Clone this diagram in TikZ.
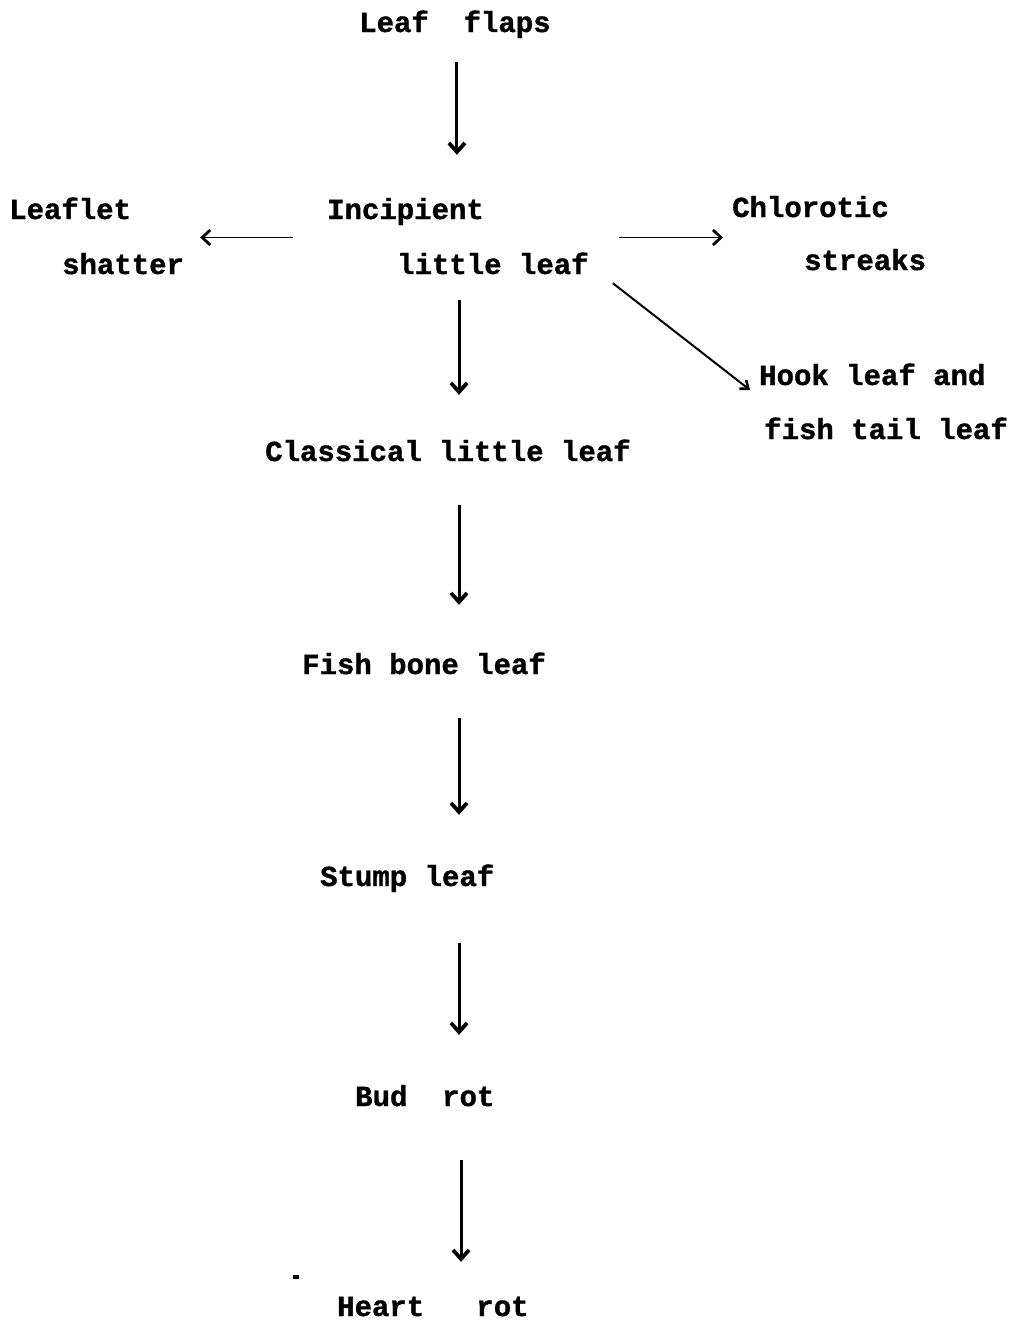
\documentclass[tikz,border=0pt]{standalone}
\usepackage{fontspec}
\newfontfamily\diagfont{Liberation Mono}[BoldFeatures={FakeBold=1.2}]
\usetikzlibrary{arrows.meta,calc}
\begin{document}
\begin{tikzpicture}[x=1pt,y=1pt,
  lbl/.style={font=\diagfont\bfseries\fontsize{29}{35}\selectfont, inner sep=0pt,
    text height=20pt, text depth=2pt, anchor=base west},
  varrow/.style={line width=3pt, -{Straight Barb[length=9pt,width=16pt,line width=3.8pt]}},
  harrow/.style={line width=1.3pt, -{Straight Barb[length=8pt,width=15pt,line width=2.8pt]}},
  darrow/.style={line width=2pt, -{Straight Barb[length=7pt,width=11pt,line width=2.6pt]}}]
\useasboundingbox (0,0) rectangle (1009,-1323);
\coordinate (spine) at (459,0);
% labels
\node[lbl] (lf)    at (359,-32)   {Leaf~~flaps};
\node[lbl] (inc1)  at (327,-219)  {Incipient};
\node[lbl] (inc2)  at (397,-274)  {little leaf};
\node[lbl] (lft1)  at (9,-219)    {Leaflet};
\node[lbl] (lft2)  at (62,-274)   {shatter};
\node[lbl] (chl1)  at (732,-217)  {Chlorotic};
\node[lbl] (chl2)  at (804,-270)  {streaks};
\node[lbl] (hook1) at (759,-385)  {Hook leaf and};
\node[lbl] (hook2) at (764,-439)  {fish tail leaf};
\node[lbl] (cl)    at (265,-461)  {Classical little leaf};
\node[lbl] (fb)    at (302,-674)  {Fish bone leaf};
\node[lbl] (st)    at (320,-886)  {Stump leaf};
\node[lbl] (bud)   at (355,-1106) {Bud~~rot};
\node[lbl] (hr)    at (337,-1316) {Heart~~~rot};
% vertical connectors
\draw[varrow, shorten <=28pt, shorten >=44pt] ([xshift=2pt]lf.south) -- ([xshift=2pt]lf.south |- inc1.north);
\draw[varrow, shorten <=24pt, shorten >=46pt] (inc2.south -| spine) -- (cl.north -| spine);
\draw[varrow, shorten <=42pt, shorten >=49pt] (cl.south -| spine) -- (fb.north -| spine);
\draw[varrow, shorten <=42pt, shorten >=51pt] (fb.south -| spine) -- (st.north -| spine);
\draw[varrow, shorten <=55pt, shorten >=51pt] (st.south -| spine) -- (bud.north -| spine);
\draw[varrow, shorten <=52pt, shorten >=34pt] ([xshift=2pt]bud.south -| spine) -- ([xshift=2pt]hr.north -| spine);
% side connectors
\coordinate (incmid) at ($(inc1.south)!0.5!(inc2.north)$);
\draw[harrow, shorten <=34pt, shorten >=16pt] (incmid -| inc1.west) -- (incmid -| lft2.east);
\draw[harrow, shorten <=30pt, shorten >=9pt] (incmid -| inc2.east) -- (incmid -| chl1.west);
\draw[darrow] ([shift={(24pt,-7pt)}]inc2.south east) -- ([shift={(-9pt,-14pt)}]hook1.west);
% stray mark
\fill (293,-1279) rectangle (299,-1275);
\end{tikzpicture}
\end{document}
